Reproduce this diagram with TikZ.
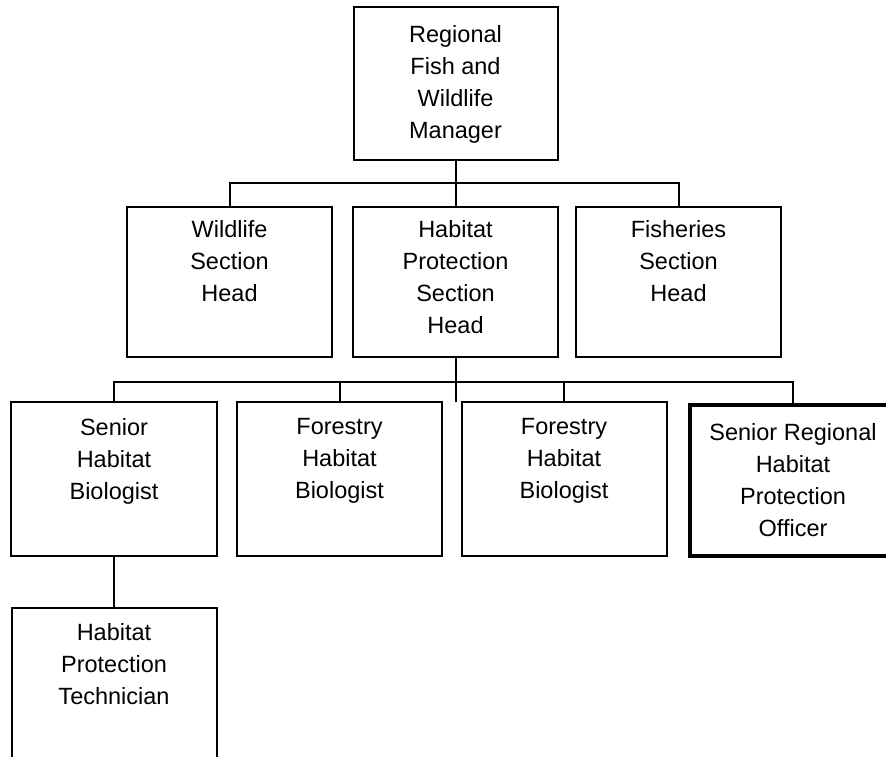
\documentclass[tikz,border=0pt]{standalone}
\usepackage{fontspec}
\setmainfont{Liberation Sans}
\begin{document}
\begin{tikzpicture}[x=1pt,y=-1pt]
\tikzset{
 box/.style={draw, line width=2pt, rectangle, inner sep=0pt, outer sep=0pt},
 thickbox/.style={box, line width=4.5pt},
 txt/.style={anchor=north, align=center, inner sep=0pt, font=\fontsize{23.5}{32}\selectfont},
 conn/.style={line width=2pt}
}
\useasboundingbox (0,0) rectangle (886,757);
% boxes
\node[box, minimum width=204pt, minimum height=153pt] (top) at (455.5,83.5) {};
\node[box, minimum width=205pt, minimum height=150pt] (wild) at (229.5,282) {};
\node[box, minimum width=205pt, minimum height=150pt] (hab) at (455.5,282) {};
\node[box, minimum width=205pt, minimum height=150pt] (fish) at (678.5,282) {};
\node[box, minimum width=206pt, minimum height=154pt] (sh) at (114,479) {};
\node[box, minimum width=205pt, minimum height=154pt] (fh1) at (339.5,479) {};
\node[box, minimum width=205pt, minimum height=154pt] (fh2) at (564,479) {};
\node[thickbox, minimum width=206pt, minimum height=151pt] (sro) at (793,480.5) {};
\node[box, minimum width=205pt, minimum height=192pt] (tech) at (114,704) {};
% texts
\node[txt] (ttop) at (455.5,25) {Regional\\Fish and\\Wildlife\\Manager};
\node[txt] (twild) at (229.5,220) {Wildlife\\Section\\Head};
\node[txt] (thab) at (455.5,220) {Habitat\\Protection\\Section\\Head};
\node[txt] (tfish) at (678.5,220) {Fisheries\\Section\\Head};
\node[txt] (tsh) at (114,418) {Senior\\Habitat\\Biologist};
\node[txt] (tfh1) at (339.5,418) {Forestry\\Habitat\\Biologist};
\node[txt] (tfh2) at (564,418) {Forestry\\Habitat\\Biologist};
\node[txt] (tsro) at (793,423) {Senior Regional\\Habitat\\Protection\\Officer};
\node[txt] (ttech) at (114,623) {Habitat\\Protection\\Technician};
% connectors
\coordinate (b1) at (0,183);
\coordinate (b2) at (0,382);
\draw[conn] (top.south) -- (hab.north);
\draw[conn] (wild.north) -- (wild.north |- b1) -- (fish.north |- b1) -- (fish.north);
\draw[conn] (hab.south) -- (hab.south |- sh.north);
\draw[conn] (sh.north) -- (sh.north |- b2) -- (sro.north |- b2) -- (sro.north);
\draw[conn] (fh1.north) -- (fh1.north |- b2);
\draw[conn] (fh2.north) -- (fh2.north |- b2);
\draw[conn] (sh.south) -- (tech.north);
\end{tikzpicture}
\end{document}
